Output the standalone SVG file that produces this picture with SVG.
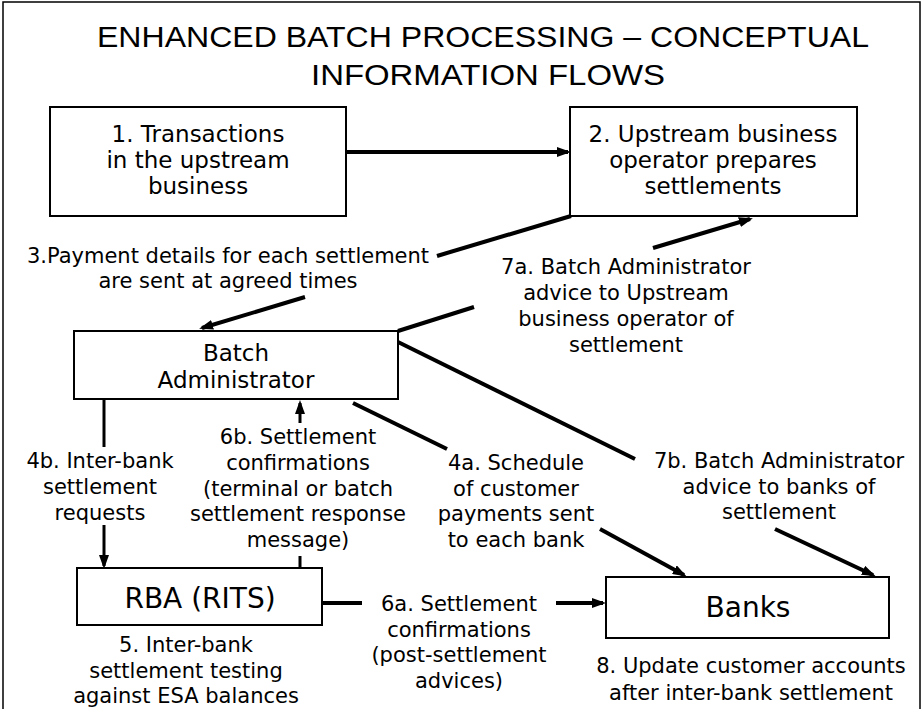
<svg xmlns="http://www.w3.org/2000/svg" width="923" height="709" viewBox="0 0 923 709">
  <style>
    .box { fill: #ffffff; stroke: #000000; stroke-width: 2; }
    .title { font-family: "Liberation Sans", Arial, sans-serif; font-size: 29px; fill: #000; text-anchor: middle; }
    .node { font-family: "DejaVu Sans", Verdana, sans-serif; font-size: 23px; fill: #000; text-anchor: middle; }
    .big { font-family: "DejaVu Sans", Verdana, sans-serif; font-size: 28px; fill: #000; text-anchor: middle; }
    .lbl { font-family: "DejaVu Sans", Verdana, sans-serif; font-size: 21px; fill: #000; text-anchor: middle; }
    .flow { stroke: #000; stroke-width: 4; fill: none; }
    .thin { stroke: #000; stroke-width: 3; fill: none; }
  </style>
  <defs>
    <marker id="arrow" markerUnits="userSpaceOnUse" viewBox="0 0 14 10" refX="11" refY="5" markerWidth="14" markerHeight="10" orient="auto">
      <path d="M0,0 L14,5 L0,10 Z" fill="#000"/>
    </marker>
  </defs>

  <!-- frame -->
  <rect x="3" y="2" width="917" height="712" fill="#fff" stroke="#000" stroke-width="1.5"/>

  <!-- title -->
  <g id="title">
    <text class="title" x="483" y="47" textLength="772" lengthAdjust="spacingAndGlyphs">ENHANCED BATCH PROCESSING – CONCEPTUAL</text>
    <text class="title" x="488" y="85" textLength="354" lengthAdjust="spacingAndGlyphs">INFORMATION FLOWS</text>
  </g>

  <!-- connectors -->
  <g id="connectors">
    <!-- 1 -> 2 -->
    <line class="flow" x1="347" y1="152" x2="568" y2="152" marker-end="url(#arrow)"/>
    <!-- 3: payment details to Batch Administrator -->
    <line class="flow" x1="571" y1="216" x2="437" y2="256"/>
    <line class="flow" x1="305" y1="297" x2="202" y2="328" marker-end="url(#arrow)"/>
    <!-- 7a: advice to upstream operator -->
    <line class="flow" x1="398" y1="331" x2="474" y2="307"/>
    <line class="flow" x1="653" y1="248" x2="750" y2="219" marker-end="url(#arrow)"/>
    <!-- 7b: advice to banks -->
    <line class="flow" x1="398" y1="342" x2="635" y2="459"/>
    <line class="flow" x1="775" y1="529" x2="873" y2="575" marker-end="url(#arrow)"/>
    <!-- 4a: schedule of payments to banks -->
    <line class="flow" x1="353" y1="403" x2="447" y2="449"/>
    <line class="flow" x1="600" y1="529" x2="684" y2="575" marker-end="url(#arrow)"/>
    <!-- 4b: inter-bank settlement requests -->
    <line class="thin" x1="104" y1="400" x2="104" y2="447"/>
    <line class="thin" x1="104" y1="525" x2="104" y2="566" marker-end="url(#arrow)"/>
    <!-- 6b: settlement confirmations back to Batch Administrator -->
    <line class="thin" x1="300" y1="568" x2="300" y2="556"/>
    <line class="thin" x1="300" y1="423" x2="300" y2="403" marker-end="url(#arrow)"/>
    <!-- 6a: post-settlement advices to banks -->
    <line class="flow" x1="323" y1="603" x2="362" y2="603"/>
    <line class="flow" x1="556" y1="603" x2="603" y2="603" marker-end="url(#arrow)"/>
  </g>

  <!-- nodes -->
  <g id="node-transactions">
    <rect class="box" x="50" y="107" width="296" height="109"/>
    <text class="node" x="198" y="142">1. Transactions</text>
    <text class="node" x="198" y="168">in the upstream</text>
    <text class="node" x="198" y="194">business</text>
  </g>
  <g id="node-upstream-operator">
    <rect class="box" x="570" y="107" width="287" height="109"/>
    <text class="node" x="713" y="142">2. Upstream business</text>
    <text class="node" x="713" y="168">operator prepares</text>
    <text class="node" x="713" y="194">settlements</text>
  </g>
  <g id="node-batch-administrator">
    <rect class="box" x="74" y="331" width="324" height="68"/>
    <text class="node" x="236" y="361">Batch</text>
    <text class="node" x="236" y="388">Administrator</text>
  </g>
  <g id="node-rba">
    <rect class="box" x="77" y="568" width="245" height="57"/>
    <text class="big" x="200" y="608">RBA (RITS)</text>
  </g>
  <g id="node-banks">
    <rect class="box" x="606" y="577" width="283" height="61"/>
    <text class="big" x="748" y="617">Banks</text>
  </g>

  <!-- flow labels -->
  <g id="labels">
    <text class="lbl" x="228" y="263">3.Payment details for each settlement</text>
    <text class="lbl" x="228" y="288">are sent at agreed times</text>

    <text class="lbl" x="626" y="274">7a. Batch Administrator</text>
    <text class="lbl" x="626" y="300">advice to Upstream</text>
    <text class="lbl" x="626" y="326">business operator of</text>
    <text class="lbl" x="626" y="352">settlement</text>

    <text class="lbl" x="100" y="468">4b. Inter-bank</text>
    <text class="lbl" x="100" y="494">settlement</text>
    <text class="lbl" x="100" y="520">requests</text>

    <text class="lbl" x="298" y="444">6b. Settlement</text>
    <text class="lbl" x="298" y="470">confirmations</text>
    <text class="lbl" x="298" y="496">(terminal or batch</text>
    <text class="lbl" x="298" y="521">settlement response</text>
    <text class="lbl" x="298" y="547">message)</text>

    <text class="lbl" x="516" y="470">4a. Schedule</text>
    <text class="lbl" x="516" y="496">of customer</text>
    <text class="lbl" x="516" y="521">payments sent</text>
    <text class="lbl" x="516" y="547">to each bank</text>

    <text class="lbl" x="779" y="468">7b. Batch Administrator</text>
    <text class="lbl" x="779" y="494">advice to banks of</text>
    <text class="lbl" x="779" y="519">settlement</text>

    <text class="lbl" x="459" y="611">6a. Settlement</text>
    <text class="lbl" x="459" y="637">confirmations</text>
    <text class="lbl" x="459" y="662">(post-settlement</text>
    <text class="lbl" x="459" y="688">advices)</text>

    <text class="lbl" x="186" y="652">5. Inter-bank</text>
    <text class="lbl" x="186" y="678">settlement testing</text>
    <text class="lbl" x="186" y="703">against ESA balances</text>

    <text class="lbl" x="751" y="673">8. Update customer accounts</text>
    <text class="lbl" x="751" y="700">after inter-bank settlement</text>
  </g>
</svg>
